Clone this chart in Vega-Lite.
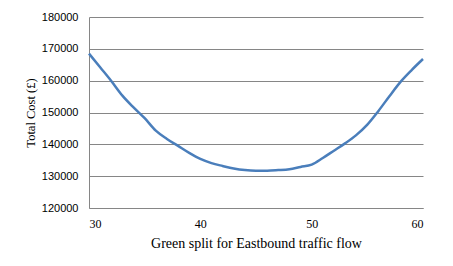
{
  "$schema": "https://vega.github.io/schema/vega-lite/v6.json",
  "autosize": "none",
  "width": 334,
  "height": 191,
  "padding": {"left": 89, "top": 17, "right": 30, "bottom": 58},
  "background": "white",
  "config": {"view": {"stroke": null}},
  "data": {"values": [
    {"split": 30, "cost": 168500},
    {"split": 31, "cost": 164200},
    {"split": 32, "cost": 159900},
    {"split": 33, "cost": 155300},
    {"split": 34, "cost": 151600},
    {"split": 35, "cost": 148200},
    {"split": 36, "cost": 144300},
    {"split": 37, "cost": 141700},
    {"split": 38, "cost": 139500},
    {"split": 39, "cost": 137300},
    {"split": 40, "cost": 135400},
    {"split": 41, "cost": 134100},
    {"split": 42, "cost": 133200},
    {"split": 43, "cost": 132400},
    {"split": 44, "cost": 131900},
    {"split": 45, "cost": 131700},
    {"split": 46, "cost": 131700},
    {"split": 47, "cost": 131900},
    {"split": 48, "cost": 132200},
    {"split": 49, "cost": 132900},
    {"split": 50, "cost": 133600},
    {"split": 51, "cost": 135700},
    {"split": 52, "cost": 138000},
    {"split": 53, "cost": 140300},
    {"split": 54, "cost": 142900},
    {"split": 55, "cost": 146200},
    {"split": 56, "cost": 150500},
    {"split": 57, "cost": 155200},
    {"split": 58, "cost": 159700},
    {"split": 59, "cost": 163400},
    {"split": 60, "cost": 166800}
  ]},
  "mark": {"type": "line", "color": "#4A7EBB", "strokeWidth": 2.5, "interpolate": "monotone"},
  "encoding": {
    "x": {
      "field": "split", "type": "quantitative",
      "scale": {"domain": [30, 60], "nice": false, "zero": false},
      "axis": {
        "title": "Green split for Eastbound traffic flow",
        "values": [30, 40, 50, 60],
        "grid": false, "ticks": false,
        "domainColor": "#868686", "domainWidth": 1,
        "labelFont": "Liberation Serif", "labelFontSize": 12, "labelColor": "#000",
        "labelPadding": 10,
        "titleFont": "Liberation Serif", "titleFontSize": 14, "titleFontWeight": "normal",
        "titleColor": "#000", "titlePadding": 7
      }
    },
    "y": {
      "field": "cost", "type": "quantitative",
      "scale": {"domain": [120000, 180000], "nice": false, "zero": false},
      "axis": {
        "title": "Total Cost (£)",
        "values": [120000, 130000, 140000, 150000, 160000, 170000, 180000],
        "format": "d",
        "grid": true, "gridColor": "#868686", "gridWidth": 1,
        "ticks": false,
        "domainColor": "#868686", "domainWidth": 1,
        "labelFont": "Liberation Sans", "labelFontSize": 11, "labelColor": "#000",
        "labelPadding": 11,
        "titleFont": "Liberation Serif", "titleFontSize": 12.5, "titleFontWeight": "normal",
        "titleColor": "#000", "titlePadding": 4
      }
    }
  }
}
